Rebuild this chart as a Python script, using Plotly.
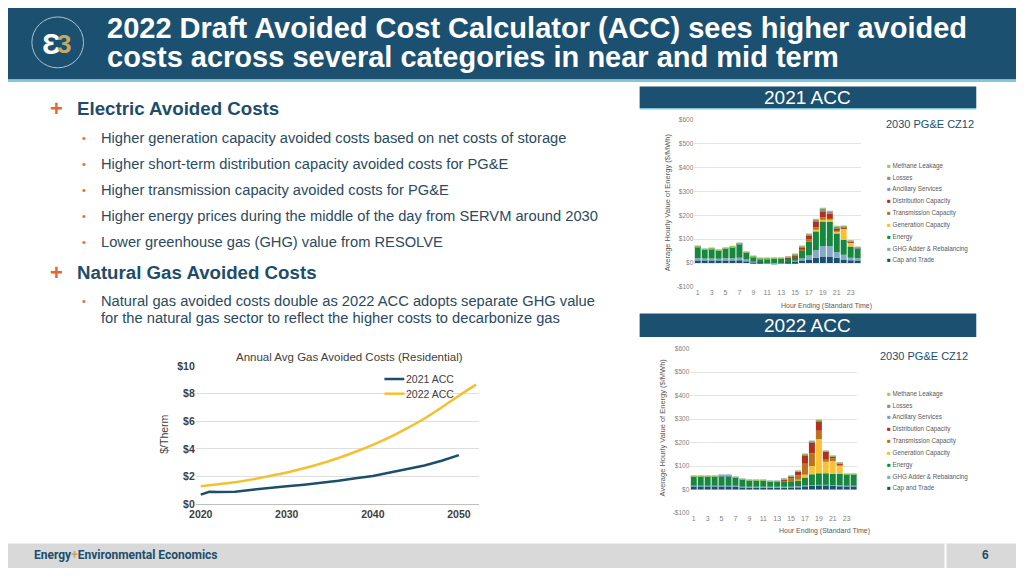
import plotly.graph_objects as go

# The page keeps an 8px body margin, so the figure is sized to fit inside the
# 1024x576 window and every position below is given in window pixels.
OFF = 8
W, H = 1024 - 2 * OFF, 576 - 2 * OFF


def px(x):
    return (x - OFF) / W


def py(y):
    return 1 - (y - OFF) / H


# ---------------- data ----------------
hours = list(range(1, 25))
hour_ticks = [1, 3, 5, 7, 9, 11, 13, 15, 17, 19, 21, 23]
bar_ticks = [-100, 0, 100, 200, 300, 400, 500, 600]
bar_tick_text = ["-$100", "$0", "$100", "$200", "$300", "$400", "$500", "$600"]

categories = ["Cap and Trade", "GHG Adder & Rebalancing", "Energy", "Generation Capacity",
              "Transmission Capacity", "Distribution Capacity", "Ancillary Services",
              "Losses", "Methane Leakage"]
cat_colors = ["#1a4f6e", "#86aac3", "#17873f", "#f7c237", "#c0701e", "#b3301b",
              "#7f95e6", "#8c8c8c", "#92d050"]

# 2021 ACC, 2030 PG&E CZ12 ($/MWh)
cap_trade_2021 = [12, 12, 12, 12, 12, 12, 12, 10, 5, 3, 2, 1, 2, 3, 8, 12, 15, 22, 28, 28, 22, 15, 12, 12]
ghg_2021 = [8, 7, 7, 6, 8, 8, 10, 5, 2, 0, -2, -3, -2, 0, 2, 7, 17, 33, 44, 44, 25, 20, 10, 8]
energy_2021 = [48, 38, 39, 35, 41, 46, 58, 30, 19, 15, 16, 18, 19, 19, 20, 35, 58, 80, 102, 102, 78, 62, 48, 43]
gen_2021 = [0, 0, 0, 0, 0, 0, 0, 0, 0, 0, 0, 0, 0, 0, 0, 0, 2, 5, 11, 8, 8, 48, 18, 0]
trans_2021 = [0, 0, 0, 0, 0, 0, 0, 0, 0, 0, 0, 0, 0, 0, 1, 4, 7, 10, 6, 5, 3, 2, 1, 0]
dist_2021 = [0, 0, 0, 0, 0, 0, 0, 0, 0, 0, 0, 0, 0, 1, 3, 9, 18, 25, 28, 20, 10, 3, 1, 0]
anc_2021 = [0.5, 0.5, 0.5, 0.5, 0.5, 0.5, 0.5, 0.5, 0.5, 0.3, 0.3, 0.3, 0.3, 0.3, 0.5, 0.5, 1, 2, 3, 3, 2, 1, 0.5, 0.5]
losses_2021 = [2, 2, 2, 2, 2, 2, 2, 1.5, 1, 1, 1, 1, 1, 1, 1.5, 2, 3, 5, 6, 7, 5, 4, 2, 2]
methane_2021 = [0.3] * 24

# 2022 ACC, 2030 PG&E CZ12 ($/MWh)
cap_trade_2022 = [14, 14, 14, 14, 14, 14, 13, 10, 9, 9, 9, 9, 9, 9, 10, 12, 15, 17, 18, 18, 17, 16, 14, 14]
ghg_2022 = [3] * 24
energy_2022 = [40, 40, 40, 39, 42, 42, 36, 30, 27, 26, 26, 24, 23, 24, 22, 25, 33, 45, 49, 49, 47, 47, 47, 49]
gen_2022 = [0, 0, 0, 0, 0, 0, 0, 0, 0, 0, 0, 0, 0, 0, 0, 2, 12, 35, 145, 48, 55, 39, 0, 0]
trans_2022 = [0, 0, 0, 0, 0, 0, 0, 0, 0, 0, 0, 0, 0, 3, 12, 18, 47, 55, 35, 12, 10, 3, 0, 0]
dist_2022 = [0, 0, 0, 0, 0, 0, 0, 0, 0, 0, 0, 0, 0, 4, 9, 17, 37, 47, 43, 32, 10, 4, 0, 0]
anc_2022 = [0.3] * 24
losses_2022 = [1, 1, 1, 1, 1, 1, 1, 1, 1, 1, 1, 1, 1, 1, 1, 1, 2, 2, 3, 2, 1, 1, 1, 1]
methane_2022 = [0.2] * 24

# Annual average gas avoided costs (residential), $/Therm
gas_years_2021 = [2020, 2021, 2022, 2024, 2026, 2028, 2030, 2032, 2034, 2036, 2038, 2040, 2042, 2044, 2046, 2048, 2050]
gas_2021 = [0.7, 0.9, 0.88, 0.9, 1.05, 1.2, 1.3, 1.42, 1.55, 1.7, 1.88, 2.05, 2.3, 2.55, 2.8, 3.15, 3.55]
gas_years_2022 = [2020, 2022, 2024, 2026, 2028, 2030, 2032, 2034, 2036, 2038, 2040, 2042, 2044, 2046, 2048, 2050, 2052]
gas_2022 = [1.3, 1.45, 1.6, 1.8, 2.05, 2.3, 2.6, 2.95, 3.35, 3.8, 4.3, 4.85, 5.5, 6.2, 7.0, 7.85, 8.65]
gas_x_ticks = [2020, 2030, 2040, 2050]
gas_y_ticks = [0, 2, 4, 6, 8, 10]
gas_y_text = ["$0", "$2", "$4", "$6", "$8", "$10"]

series_2021 = [cap_trade_2021, ghg_2021, energy_2021, gen_2021, trans_2021, dist_2021,
               anc_2021, losses_2021, methane_2021]
series_2022 = [cap_trade_2022, ghg_2022, energy_2022, gen_2022, trans_2022, dist_2022,
               anc_2022, losses_2022, methane_2022]

bullets_electric = [
    "Higher generation capacity avoided costs based on net costs of storage",
    "Higher short-term distribution capacity avoided costs for PG&E",
    "Higher transmission capacity avoided costs for PG&E",
    "Higher energy prices during the middle of the day from SERVM around 2030",
    "Lower greenhouse gas (GHG) value from RESOLVE",
]

# ---------------- styles ----------------
FONT = "Liberation Sans, Arial, sans-serif"
NAVY = "#1c5070"
HEAD_TXT = "#1d4d6a"
BODY_TXT = "#2c4a5e"
ORANGE = "#e8643a"
GRAY_TXT = "#7f7f7f"

fig = go.Figure()

fig.add_trace(go.Scatter(x=gas_years_2021, y=gas_2021, mode="lines", name="2021 ACC",
                         line=dict(color="#1d4f6c", width=2.5), xaxis="x", yaxis="y"))
fig.add_trace(go.Scatter(x=gas_years_2022, y=gas_2022, mode="lines", name="2022 ACC",
                         line=dict(color="#f5c02e", width=2.5, shape="spline"), xaxis="x", yaxis="y"))

for name, col, vals in zip(categories, cat_colors, series_2021):
    fig.add_trace(go.Bar(x=hours, y=vals, name=name, marker=dict(color=col, line=dict(width=0)),
                         xaxis="x2", yaxis="y2"))
for name, col, vals in zip(categories, cat_colors, series_2022):
    fig.add_trace(go.Bar(x=hours, y=vals, name=name, marker=dict(color=col, line=dict(width=0)),
                         xaxis="x3", yaxis="y3"))

shapes = []
ann = []


def rect(x0, y0, x1, y1, color):
    shapes.append(dict(type="rect", xref="paper", yref="paper", x0=px(x0), x1=px(x1),
                       y0=py(y1), y1=py(y0), fillcolor=color, line=dict(width=0), layer="below"))


def text(x, y, s, size, color, xanchor="left", weight="normal", family=FONT, angle=0):
    if xanchor == "left":
        x -= 3  # annotation box padding
    ann.append(dict(x=px(x), y=py(y), xref="paper", yref="paper", text=s, showarrow=False,
                    xanchor=xanchor, yanchor="middle", textangle=angle,
                    font=dict(size=size, color=color, family=family, weight=weight)))


# header
rect(0, 0, 1024, 75, NAVY)
rect(0, 75, 1024, 77.5, "#86c7d6")
shapes.append(dict(type="circle", xref="paper", yref="paper", x0=px(25), x1=px(77),
                   y0=py(63), y1=py(11), line=dict(color="#a9c3d2", width=1)))
text(44.5, 38, "Ɛ", 30, "white", xanchor="center", weight="bold")
text(57.5, 39, "3", 26, "#c4a865", xanchor="center", weight="bold")
text(102, 22, "2022 Draft Avoided Cost Calculator (ACC) sees higher avoided", 29, "white", weight="bold")
text(102, 52, "costs across several categories in near and mid term", 29, "white", weight="bold")

# ACC bands
rect(637, 82, 976, 104, NAVY)
rect(637, 104, 976, 105.5, "#86c7d6")
text(806.5, 93, "2021 ACC", 19, "white", xanchor="center")
rect(637, 314, 976, 338, NAVY)
text(806.5, 326.5, "2022 ACC", 19, "white", xanchor="center")
text(929, 120, "2030 PG&E CZ12", 11, HEAD_TXT, xanchor="center")
text(923, 357, "2030 PG&E CZ12", 11, HEAD_TXT, xanchor="center")

# footer
rect(0, 549, 1024, 576, "#d9d9d9")
rect(944, 549, 946, 576, "white")
text(28, 561, "Energy<span style='color:#c4a865'>+</span>Environmental Economics", 12, HEAD_TXT,
     weight="bold", family="Liberation Sans Narrow, Arial Narrow, Roboto, sans-serif")
text(985, 561, "6", 12, HEAD_TXT, xanchor="center", weight="bold")

# left text
text(44, 105, "+", 22, ORANGE, weight="bold")
text(71, 105, "Electric Avoided Costs", 18.7, HEAD_TXT, weight="bold")
for i, b in enumerate(bullets_electric):
    yy = 135 + 26.5 * i
    text(76, yy, "•", 11, ORANGE)
    text(96, yy, b, 14.7, BODY_TXT)
text(44, 272, "+", 22, ORANGE, weight="bold")
text(71, 272, "Natural Gas Avoided Costs", 18.7, HEAD_TXT, weight="bold")
text(76, 301, "•", 11, ORANGE)
text(96, 301, "Natural gas avoided costs double as 2022 ACC adopts separate GHG value", 14.7, BODY_TXT)
text(96, 319, "for the natural gas sector to reflect the higher costs to decarbonize gas", 14.7, BODY_TXT)

# line chart decorations
text(345, 358, "Annual Avg Gas Avoided Costs (Residential)", 11.5, "#404040", xanchor="center")
text(158, 437, "$/Therm", 10.5, "#404040", xanchor="center", angle=-90)
shapes.append(dict(type="line", xref="paper", yref="paper", x0=px(380), x1=px(400), y0=py(381), y1=py(381),
                   line=dict(color="#1d4f6c", width=2.5)))
shapes.append(dict(type="line", xref="paper", yref="paper", x0=px(380), x1=px(400), y0=py(396), y1=py(396),
                   line=dict(color="#f5c02e", width=2.5)))
text(403, 381, "2021 ACC", 10.5, "#404040")
text(403, 396, "2022 ACC", 10.5, "#404040")

# bar chart decorations
for top_y, ax_x, ax_y, hx, hy in [(163, 665, 200, 825, 306), (396, 660, 430, 823, 536)]:
    for i in range(len(categories)):
        k = len(categories) - 1 - i
        yy = top_y + 12.1 * i
        text(887, yy, f"<span style='color:{cat_colors[k]}'>■</span> {categories[k]}", 6.3, "#595959")
    text(ax_x, ax_y, "Average Hourly Value of Energy ($/MWh)", 7.5, "#595959", xanchor="center", angle=-90)
    text(hx, hy, "Hour Ending (Standard Time)", 7, "#595959", xanchor="center")

bar_x_axis = dict(range=[0.5, 24.5], tickvals=hour_ticks, showgrid=False, showline=False, zeroline=False,
                  ticks="", tickfont=dict(size=7, color=GRAY_TXT, family=FONT), fixedrange=True)
bar_y_axis = dict(range=[-100, 600], tickvals=bar_ticks, ticktext=bar_tick_text, showgrid=True,
                  gridcolor="#e4e4e4", gridwidth=1, zeroline=False, showline=False, ticks="",
                  tickfont=dict(size=6.5, color=GRAY_TXT, family=FONT))

fig.update_layout(
    width=W, height=H, margin=dict(l=0, r=0, t=0, b=0, pad=0),
    paper_bgcolor="white", plot_bgcolor="white",
    showlegend=False, barmode="relative", bargap=0.14,
    font=dict(family=FONT),
    xaxis=dict(domain=[px(190), px(475)], range=[2019.42, 2052.31], tickvals=gas_x_ticks,
               showgrid=False, showline=True, linecolor="#bfbfbf", zeroline=False, ticks="",
               tickfont=dict(size=10.5, color="#404040", family=FONT, weight="bold"), anchor="y"),
    yaxis=dict(domain=[py(509), py(367.7)], range=[0, 10], tickvals=gas_y_ticks, ticktext=gas_y_text,
               showgrid=True, gridcolor="#dedede", zeroline=False, showline=False, ticks="",
               tickfont=dict(size=10.5, color="#404040", family=FONT, weight="bold"), anchor="x"),
    xaxis2=dict(domain=[px(692), px(860)], anchor="y2", **bar_x_axis),
    yaxis2=dict(domain=[py(287), py(116)], anchor="x2", **bar_y_axis),
    xaxis3=dict(domain=[px(688), px(856)], anchor="y3", **bar_x_axis),
    yaxis3=dict(domain=[py(518), py(350)], anchor="x3", **bar_y_axis),
    shapes=shapes, annotations=ann,
)

fig.write_html("out.html", config={"displayModeBar": False})
